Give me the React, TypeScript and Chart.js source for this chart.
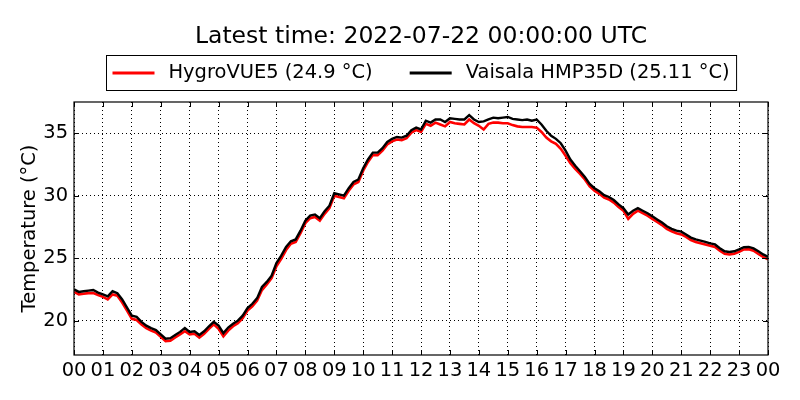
import React, { useRef, useEffect } from 'react'
import { Chart, registerables } from 'chart.js'

Chart.register(...registerables)

// readings every 10 minutes, 00:00 to 24:00 UTC
const stepMinutes = 10

const hygroVUE5 = [
  22.3, 22.1, 22.15, 22.2, 22.2, 22.05, 21.9, 21.7, 22.1, 22.0, 21.45, 20.8,
  20.15, 20.05, 19.7, 19.4, 19.2, 19.05, 18.7, 18.35, 18.4, 18.65, 18.9, 19.15,
  18.9, 18.95, 18.65, 18.95, 19.35, 19.7, 19.35, 18.75, 19.2, 19.55, 19.8, 20.2,
  20.8, 21.15, 21.6, 22.45, 22.9, 23.4, 24.35, 24.95, 25.65, 26.15, 26.3, 27.0,
  27.8, 28.2, 28.3, 28.0, 28.55, 29.0, 30.0, 29.9, 29.8, 30.4, 30.9, 31.1,
  32.0, 32.7, 33.25, 33.25, 33.6, 34.1, 34.35, 34.5, 34.45, 34.6, 35.05, 35.25,
  35.1, 35.75, 35.6, 35.85, 35.7, 35.55, 35.9, 35.8, 35.75, 35.7, 36.1, 35.8,
  35.6, 35.3, 35.75, 35.85, 35.85, 35.8, 35.8, 35.65, 35.55, 35.5, 35.5, 35.5,
  35.45, 35.1, 34.65, 34.35, 34.15, 33.75, 33.2, 32.6, 32.15, 31.75, 31.3, 30.75,
  30.4, 30.15, 29.85, 29.7, 29.45, 29.1, 28.8, 28.15, 28.55, 28.8, 28.6, 28.4,
  28.15, 27.9, 27.65, 27.35, 27.15, 27.0, 26.9, 26.7, 26.45, 26.3, 26.2, 26.1,
  26.0, 25.9, 25.6, 25.35, 25.3, 25.35, 25.5, 25.7, 25.72, 25.6, 25.35, 25.1,
  24.9,
]

const hmp35d = [
  22.5, 22.3, 22.35, 22.4, 22.45, 22.25, 22.1, 21.95, 22.35, 22.2, 21.7, 21.05,
  20.4, 20.3, 19.9, 19.6, 19.4, 19.25, 18.9, 18.55, 18.6, 18.85, 19.1, 19.4,
  19.1, 19.15, 18.85, 19.15, 19.55, 19.9, 19.6, 19.0, 19.45, 19.75, 20.0, 20.4,
  21.0, 21.35, 21.8, 22.7, 23.1, 23.6, 24.6, 25.2, 25.9, 26.35, 26.5, 27.2,
  28.0, 28.4, 28.5, 28.2, 28.75, 29.2, 30.2, 30.1, 30.0, 30.6, 31.1, 31.3,
  32.2, 32.9, 33.45, 33.45, 33.8, 34.3, 34.55, 34.7, 34.65, 34.8, 35.25, 35.45,
  35.3, 36.0, 35.85, 36.1, 36.1, 35.9, 36.2, 36.15, 36.1, 36.1, 36.45, 36.1,
  35.9, 35.95, 36.1, 36.25, 36.2, 36.25, 36.3, 36.15, 36.1, 36.05, 36.1, 36.0,
  36.1, 35.7, 35.2, 34.8, 34.55, 34.2, 33.6, 32.9, 32.4, 31.95, 31.5, 30.95,
  30.6, 30.35, 30.05, 29.9, 29.65, 29.3, 29.0, 28.5, 28.8, 29.0, 28.8, 28.6,
  28.35, 28.1, 27.85, 27.55, 27.35, 27.2, 27.12, 26.9, 26.65, 26.5, 26.4, 26.3,
  26.18, 26.1, 25.8, 25.55, 25.5, 25.55, 25.7, 25.88, 25.9, 25.78, 25.55, 25.3,
  25.11,
]

const hourTicks = [0, 1, 2, 3, 4, 5, 6, 7, 8, 9, 10, 11, 12, 13, 14, 15, 16, 17, 18, 19, 20, 21, 22, 23, 24]
const hourLabels = [
  '00', '01', '02', '03', '04', '05', '06', '07', '08', '09', '10', '11',
  '12', '13', '14', '15', '16', '17', '18', '19', '20', '21', '22', '23', '00',
]
const tempTicks = [20, 25, 30, 35]
const tempMin = 17.25
const tempMax = 37.5

const titleText = 'Latest time: 2022-07-22 00:00:00 UTC'
const seriesLabels = ['HygroVUE5 (24.9 °C)', 'Vaisala HMP35D (25.11 °C)']
const seriesColors = ['#ff0000', '#000000']

const FONT = 'DejaVu Sans'
const TEXT_SIZE = 19.44
const TITLE_SIZE = 23.5

const toPoints = (vals: number[]) =>
  vals.map((v, i) => ({ x: (i * stepMinutes) / 60, y: v }))

// matplotlib-ish frame with inward ticks on all four sides
const framePlugin = {
  id: 'frameTicks',
  afterDraw(chart: any) {
    const { ctx, chartArea: a, scales } = chart
    const len = 5
    ctx.save()
    ctx.strokeStyle = '#000'
    ctx.lineWidth = 1
    ctx.beginPath()
    hourTicks.forEach((h) => {
      const x = Math.round(scales.x.getPixelForValue(h)) + 0.5
      ctx.moveTo(x, a.bottom)
      ctx.lineTo(x, a.bottom - len)
      ctx.moveTo(x, a.top)
      ctx.lineTo(x, a.top + len)
    })
    tempTicks.forEach((t) => {
      const y = Math.round(scales.y.getPixelForValue(t)) + 0.5
      ctx.moveTo(a.left, y)
      ctx.lineTo(a.left + len, y)
      ctx.moveTo(a.right, y)
      ctx.lineTo(a.right - len, y)
    })
    ctx.stroke()
    ctx.lineWidth = 1.2
    ctx.strokeRect(a.left, a.top, a.right - a.left, a.bottom - a.top)
    ctx.restore()
  },
}

// boxed legend centred over the axes
const legendPlugin = {
  id: 'boxLegend',
  afterDraw(chart: any) {
    const { ctx, chartArea: a } = chart
    const lineLen = 42
    const gap = 14
    const between = 37
    const padL = 6
    const padR = 7
    ctx.save()
    ctx.font = `${TEXT_SIZE}px "${FONT}"`
    const widths = seriesLabels.map((s) => ctx.measureText(s).width)
    const total =
      padL + padR + widths.reduce((s, w) => s + w, 0) + seriesLabels.length * (lineLen + gap) + between * (seriesLabels.length - 1)
    const cx = (a.left + a.right) / 2
    const left = Math.round(cx - total / 2) + 0.5
    const top = 55.5
    const height = 35
    const midY = top + height / 2
    ctx.fillStyle = '#fff'
    ctx.fillRect(left, top, total, height)
    ctx.strokeStyle = '#000'
    ctx.lineWidth = 1
    ctx.strokeRect(left, top, total, height)
    let x = left + padL
    seriesLabels.forEach((label, i) => {
      ctx.strokeStyle = seriesColors[i]
      ctx.lineWidth = 3
      ctx.beginPath()
      ctx.moveTo(x, midY)
      ctx.lineTo(x + lineLen, midY)
      ctx.stroke()
      x += lineLen + gap
      ctx.fillStyle = '#000'
      ctx.textBaseline = 'middle'
      ctx.textAlign = 'left'
      ctx.fillText(label, x, midY)
      x += widths[i] + between
    })
    ctx.restore()
  },
}

export const TemperatureChart = () => {
  const chartRef = useRef<HTMLCanvasElement>(null)

  useEffect(() => {
    document.body.style.margin = '0'
    if (!chartRef.current) return
    const ctx = chartRef.current.getContext('2d')
    if (!ctx) return

    Chart.defaults.font.family = FONT
    Chart.defaults.color = '#000'

    const chart = new Chart(ctx, {
      type: 'line',
      data: {
        datasets: [
          {
            label: seriesLabels[0],
            data: toPoints(hygroVUE5),
            borderColor: seriesColors[0],
            backgroundColor: seriesColors[0],
            borderWidth: 2.6,
            pointRadius: 0,
            fill: false,
            order: 1,
          },
          {
            label: seriesLabels[1],
            data: toPoints(hmp35d),
            borderColor: seriesColors[1],
            backgroundColor: seriesColors[1],
            borderWidth: 2.4,
            pointRadius: 0,
            fill: false,
            order: 0,
          },
        ],
      },
      options: {
        animation: false,
        responsive: false,
        devicePixelRatio: 1,
        layout: { padding: { left: 0, right: 32, top: 0, bottom: 0 } },
        plugins: {
          legend: { display: false },
          tooltip: { enabled: false },
          title: {
            display: true,
            text: titleText,
            fullSize: false,
            color: '#000',
            font: { size: TITLE_SIZE, weight: 'normal' },
            padding: { top: 23, bottom: 50.8 },
          },
        },
        scales: {
          x: {
            type: 'linear',
            min: 0,
            max: 24,
            afterBuildTicks: (s: any) => {
              s.ticks = hourTicks.map((v) => ({ value: v }))
            },
            afterFit: (s: any) => {
              s.height = 45
            },
            ticks: {
              autoSkip: false,
              maxRotation: 0,
              padding: 4,
              color: '#000',
              font: { size: TEXT_SIZE },
              callback: (v: any) => hourLabels[hourTicks.indexOf(Number(v))],
            },
            grid: { color: '#000', lineWidth: 1, drawTicks: false },
            border: { display: false, dash: [1, 3] },
          },
          y: {
            type: 'linear',
            min: tempMin,
            max: tempMax,
            afterBuildTicks: (s: any) => {
              s.ticks = tempTicks.map((v) => ({ value: v }))
            },
            afterFit: (s: any) => {
              s.width = 74
            },
            ticks: {
              padding: 6,
              color: '#000',
              font: { size: TEXT_SIZE },
            },
            title: {
              display: true,
              text: 'Temperature (°C)',
              color: '#000',
              font: { size: TEXT_SIZE },
              padding: { top: 18, bottom: 0 },
            },
            grid: { color: '#000', lineWidth: 1, drawTicks: false },
            border: { display: false, dash: [1, 3] },
          },
        },
      },
      plugins: [framePlugin, legendPlugin],
    })

    return () => {
      chart.destroy()
    }
  }, [])

  return (
    <div style={{ width: 800, height: 400 }}>
      <canvas ref={chartRef} width={800} height={400}></canvas>
    </div>
  )
}

export default function App() {
  return <TemperatureChart />
}
